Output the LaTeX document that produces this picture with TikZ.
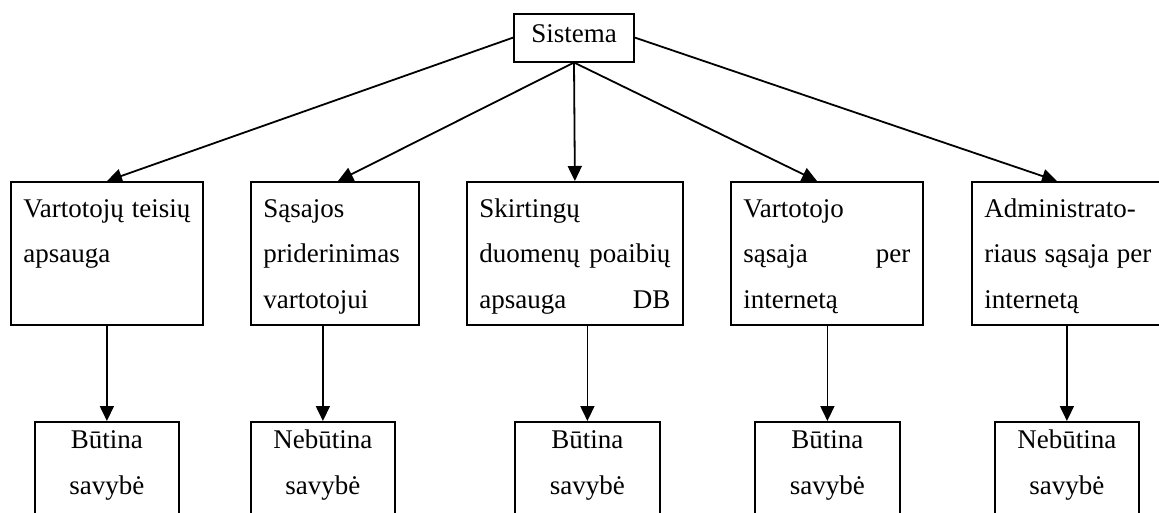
\documentclass[tikz,border=0pt]{standalone}
\usepackage{fontspec}
\setmainfont{Liberation Serif}
\usetikzlibrary{arrows.meta}
\newcommand\TopText[2]{\parbox[c][143pt][t]{#1}{\rule{0pt}{35.5pt}#2}}
\newcommand\BotText[2]{\parbox[c][120pt][t]{#1}{\centering\rule{0pt}{27pt}#2}}
\newcommand\JL[1]{\makebox[\linewidth][s]{#1}}
\begin{document}
\begin{tikzpicture}[x=1pt,y={(0pt,-1pt)},
  every node/.style={font=\fontsize{27}{45.5}\selectfont},
  rootbox/.style={draw,line width=1.8pt,inner sep=0pt,minimum width=120pt,text height=29pt,text depth=19pt,anchor=north},
  topbox/.style={draw,line width=1.8pt,inner xsep=12.5pt,inner ysep=0pt,anchor=north west},
  botbox/.style={draw,line width=1.8pt,inner sep=0pt,anchor=north west},
  conn/.style={line width=1.8pt,-{Triangle[length=15pt,width=14pt]}}]
\useasboundingbox (0,0) rectangle (1159,512);
\clip (0,0) rectangle (1159,512);

\node[rootbox] (s) at (574,12.7) {Sistema};

\node[topbox] (t1) at (10,181) {\TopText{167pt}{\JL{Vartotojų teisių}\\apsauga}};
\node[topbox] (t2) at (250,181) {\TopText{143pt}{Sąsajos\\priderinimas\\vartotojui}};
\node[topbox] (t3) at (466,181) {\TopText{191pt}{Skirtingų\\\JL{duomenų poaibių}\\\JL{apsauga DB}}};
\node[topbox] (t4) at (730,181) {\TopText{167pt}{Vartotojo\\\JL{sąsaja per}\\internetą}};
\node[topbox] (t5) at (971,181) {\TopText{167pt}{Administrato-\\\JL{riaus sąsaja per}\\internetą}};

\node[botbox] (b1) at (34,421) {\BotText{144pt}{Būtina\\savybė}};
\node[botbox] (b2) at (250,421) {\BotText{144pt}{Nebūtina\\savybė}};
\node[botbox] (b3) at (514,421) {\BotText{145pt}{Būtina\\savybė}};
\node[botbox] (b4) at (754,421) {\BotText{145pt}{Būtina\\savybė}};
\node[botbox] (b5) at (994,421) {\BotText{144pt}{Nebūtina\\savybė}};

\draw[conn] (s.west) -- ([xshift=97pt]t1.north west);
\draw[conn] (s.south) -- ([xshift=88pt]t2.north west);
\draw[conn] (s.south) -- (t3.north);
\draw[conn] (s.south) -- ([xshift=87pt]t4.north west);
\draw[conn] (s.east) -- ([xshift=86pt]t5.north west);

\draw[conn] (b1.north |- t1.south) -- (b1.north);
\draw[conn] (b2.north |- t2.south) -- (b2.north);
\draw[conn] (b3.north |- t3.south) -- (b3.north);
\draw[conn] (b4.north |- t4.south) -- (b4.north);
\draw[conn] (b5.north |- t5.south) -- (b5.north);
\end{tikzpicture}
\end{document}
